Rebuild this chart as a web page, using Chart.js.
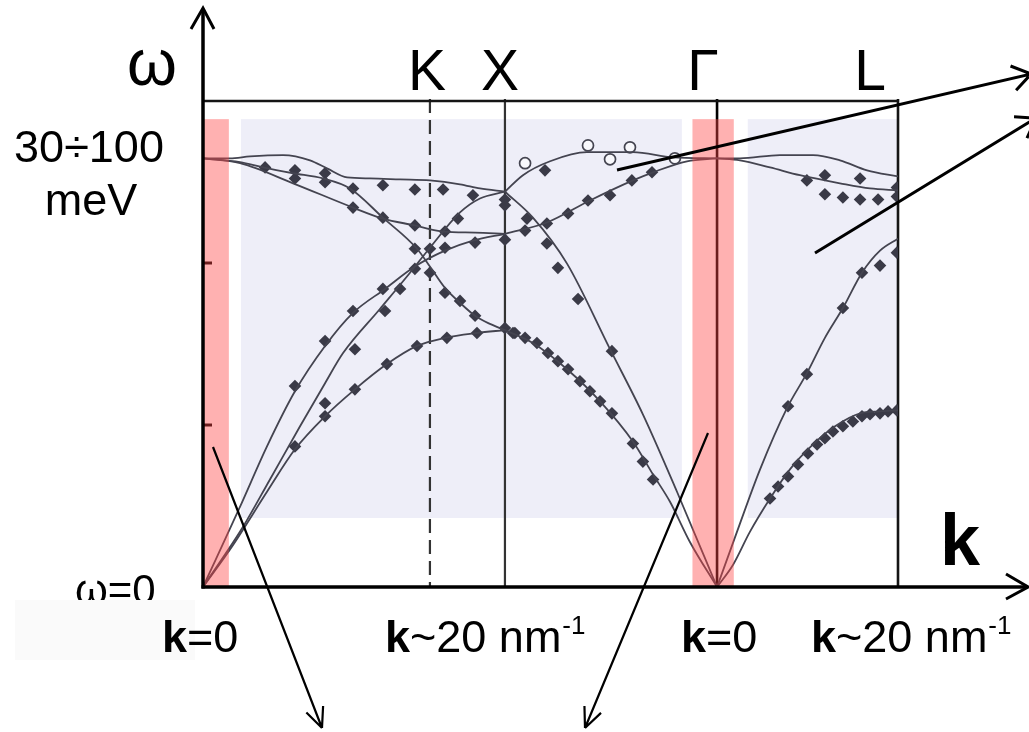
<!DOCTYPE html>
<html>
<head>
<meta charset="utf-8">
<script src="https://cdn.jsdelivr.net/npm/chart.js@4/dist/chart.umd.min.js"></script>
<style>
  html, body { margin: 0; padding: 0; background: #ffffff; }
  #wrap { width: 1029px; height: 732px; position: relative; }
</style>
</head>
<body>
<div id="wrap"><canvas id="c"></canvas></div>
<script>
// Phonon dispersion along Γ–K–X–Γ–L.
// k: distance along the path (units of 2π/a), ω: frequency (axis ticks at 5 and 10).
const symLabels = ['Γ', 'K', 'X', 'Γ', 'L'];
const symK = [0, 1.071, 1.425, 2.426, 3.28];
const omegaTicks = [5, 10];
const omegaMax = 15;

// Calculated branches, Γ → K → X
const gkxUpper  = [[0,13.23],[0.127,13.23],[0.222,13.29],[0.378,13.33],[0.505,13.17],[0.585,12.92],[0.680,12.64],[0.788,12.61],[0.930,12.58],[1.071,12.55],[1.213,12.43],[1.307,12.30],[1.425,12.2]];
const gkxFalling = [[0,13.23],[0.175,13.11],[0.283,12.95],[0.425,12.77],[0.566,12.61],[0.694,12.30],[0.849,11.40],[1.010,10.44],[1.071,9.89],[1.142,9.23],[1.213,8.77],[1.284,8.37],[1.354,8.12],[1.425,7.93]];
const gkxLower  = [[0,13.23],[0.175,13.08],[0.425,12.46],[0.708,11.71],[0.849,11.37],[1.000,11.16],[1.133,10.97],[1.284,10.94],[1.425,10.9]];
const gkxAcA    = [[0,0],[0.175,2.48],[0.302,4.34],[0.434,6.04],[0.576,7.44],[0.708,8.46],[0.859,9.20],[1.000,9.89],[1.142,10.38],[1.274,10.69],[1.425,10.9]];
const gkxAcB    = [[0,0],[0.189,1.86],[0.316,3.32],[0.458,4.96],[0.576,6.29],[0.661,7.22],[0.835,8.58],[0.977,9.70],[1.071,10.47],[1.213,11.56],[1.307,11.99],[1.425,12.2]];
const gkxAcC    = [[0,0],[0.142,1.30],[0.302,2.94],[0.434,4.25],[0.576,5.27],[0.717,6.10],[0.868,6.88],[1.010,7.44],[1.142,7.69],[1.293,7.84],[1.425,7.93]];

// Calculated branches, X → Γ
const xgTO = [[1.425,12.2],[1.510,12.71],[1.638,13.14],[1.812,13.42],[2.029,13.42],[2.218,13.26],[2.426,13.23]];
const xgLO = [[1.425,10.9],[1.623,11.25],[1.826,11.93],[2.029,12.55],[2.124,12.80],[2.284,13.14],[2.426,13.23]];
const xgLA = [[1.425,12.2],[1.557,11.40],[1.718,9.98],[1.921,7.34],[2.076,5.33],[2.237,2.94],[2.426,0]];
const xgTA = [[1.425,7.93],[1.557,7.53],[1.718,6.72],[1.874,5.73],[2.029,4.49],[2.124,3.47],[2.204,2.63],[2.298,1.39],[2.426,0]];

// Calculated branches, Γ → L
const glTO1 = [[2.426,13.23],[2.534,13.23],[2.723,13.33],[2.879,13.33],[3.006,13.17],[3.134,12.86],[3.28,12.67]];
const glTO2 = [[2.426,13.23],[2.534,13.17],[2.676,12.95],[2.817,12.71],[3.006,12.46],[3.148,12.30],[3.28,12.24]];
const glLA  = [[2.426,0],[2.520,1.70],[2.629,3.63],[2.756,5.52],[2.850,6.60],[2.935,7.69],[3.020,8.61],[3.110,9.70],[3.195,10.38],[3.28,10.75]];
const glTA  = [[2.426,0],[2.501,0.68],[2.581,1.70],[2.676,2.73],[2.770,3.63],[2.879,4.40],[2.983,4.96],[3.101,5.36],[3.195,5.42],[3.28,5.45]];

// Measured points (neutron scattering)
const measGKX = [[0.293,12.95],[0.434,12.86],[0.434,12.61],[0.576,12.77],[0.576,12.49],[0.708,12.30],[0.849,12.40],[1.000,12.27],[1.133,12.27],[1.274,12.09],[1.425,11.96],[1.425,11.78],
  [0.708,11.71],[0.849,11.40],[1.000,11.16],[1.142,10.97],[1.203,11.37],[1.284,10.63],[1.425,10.72],
  [1.000,10.44],[1.071,10.44],[1.142,10.47],
  [1.000,9.82],[1.071,9.70],[1.142,9.08],[1.213,8.83],[1.284,8.37],[1.425,7.99],[1.472,7.84],
  [0.849,9.20],[0.930,9.20],[0.708,8.52],[0.859,8.52],[0.576,7.59],[0.717,7.34],
  [1.010,7.44],[1.151,7.69],[1.293,7.84],[0.868,6.88],
  [0.434,6.20],[0.576,5.67],[0.576,5.27],[0.717,6.10],[0.434,4.34]];
const measXG = [[1.614,12.86],[1.529,11.37],[1.520,11.00],[1.623,11.22],[1.723,11.53],[1.817,11.93],[1.921,12.09],[2.024,12.55],[2.119,12.80],
  [1.623,10.60],[1.675,9.85],[1.770,8.89],[1.930,7.28],
  [1.463,7.84],[1.520,7.69],[1.576,7.53],[1.628,7.22],[1.675,6.97],[1.723,6.72],[1.779,6.35],[1.826,6.04],[1.874,5.73],[1.930,5.36],[2.029,4.43],[2.076,3.87],[2.124,3.32]];
const measGL = [[2.850,12.55],[2.935,12.71],[3.101,12.61],[2.935,12.12],[3.020,12.02],[3.101,11.96],[3.186,11.96],[3.275,12.33],[3.275,12.05],
  [2.761,5.58],[2.850,6.57],[3.020,8.61],[3.110,9.70],[3.195,9.92],[3.275,10.32],
  [2.676,2.73],[2.714,3.10],[2.761,3.41],[2.808,3.78],[2.855,4.12],[2.898,4.40],[2.935,4.59],[2.973,4.80],[3.020,4.96],[3.067,5.11],[3.110,5.27],[3.148,5.33],[3.195,5.36],[3.233,5.42],[3.275,5.45]];
const measOpen = [[1.520,13.08],[1.817,13.63],[1.921,13.20],[2.015,13.57],[2.227,13.23]];

// Highlighted k ranges
const pinkBands = [[0, 0.122], [2.31, 2.505]];
const paleBands = [[0.179, 2.26], [2.571, 3.275]];
const bandTop = 14.44, paleBottom = 2.13;

const toXY = arr => arr.map(([k, w]) => ({ x: k, y: w }));
const FONT = '"Liberation Sans", Arial, sans-serif';

const branches = [gkxUpper, gkxFalling, gkxLower, gkxAcA, gkxAcB, gkxAcC,
                  xgTO, xgLO, xgLA, xgTA, glTO1, glTO2, glLA, glTA];

const datasets = branches.map(b => ({
  data: toXY(b), showLine: true, borderColor: '#444450', borderWidth: 1.8,
  pointRadius: 0, cubicInterpolationMode: 'monotone', fill: false
}));
datasets.push({
  data: toXY([...measGKX, ...measXG, ...measGL]), showLine: false,
  pointStyle: 'rectRot', pointRadius: 6.3, backgroundColor: '#3a3a47', borderColor: '#3a3a47', borderWidth: 0
});
datasets.push({
  data: toXY(measOpen), showLine: false, pointStyle: 'circle', pointRadius: 5.5,
  backgroundColor: 'rgba(255,255,255,0.6)', borderColor: '#444450', borderWidth: 1.7
});

function arrowLine(ctx, x0, y0, x1, y1, head, spread) {
  const ang = Math.atan2(y1 - y0, x1 - x0);
  ctx.beginPath();
  ctx.moveTo(x0, y0); ctx.lineTo(x1, y1);
  for (const s of [-1, 1]) {
    ctx.moveTo(x1, y1);
    ctx.lineTo(x1 - head * Math.cos(ang + s * spread), y1 - head * Math.sin(ang + s * spread));
  }
  ctx.stroke();
}

function kLabel(ctx, x, y, rest, sup) {
  ctx.textAlign = 'left';
  ctx.font = 'bold 45px ' + FONT;
  ctx.fillText('k', x, y);
  let cx = x + ctx.measureText('k').width;
  ctx.font = '45px ' + FONT;
  ctx.fillText(rest, cx, y);
  cx += ctx.measureText(rest).width;
  if (sup) {
    ctx.font = '26px ' + FONT;
    ctx.fillText(sup, cx + 1, y - 18);
  }
}

const decor = {
  id: 'decor',
  beforeDatasetsDraw(chart) {
    const { ctx, chartArea: a, scales: { x, y } } = chart;
    ctx.save();
    // pale panels
    ctx.fillStyle = '#eeeef8';
    for (const [k0, k1] of paleBands) {
      const p0 = x.getPixelForValue(k0), p1 = x.getPixelForValue(k1);
      const t = y.getPixelForValue(bandTop), b = y.getPixelForValue(paleBottom);
      ctx.fillRect(p0, t, p1 - p0, b - t);
    }
    // symmetry-point lines
    symK.forEach((k, i) => {
      if (i === 0) return;
      const px = x.getPixelForValue(k);
      ctx.beginPath();
      ctx.strokeStyle = i === 4 ? '#151515' : (i === 3 ? '#000' : '#333');
      ctx.lineWidth = i === 4 ? 2.6 : (i === 3 ? 2.6 : 2.2);
      ctx.setLineDash(symLabels[i] === 'K' ? [14, 7] : []);
      ctx.moveTo(px, a.top - 2); ctx.lineTo(px, a.bottom);
      ctx.stroke();
    });
    ctx.setLineDash([]);
    // top frame
    ctx.beginPath();
    ctx.strokeStyle = '#151515'; ctx.lineWidth = 2.6;
    ctx.moveTo(a.left, a.top); ctx.lineTo(a.right + 1, a.top);
    ctx.stroke();
    // ω ticks
    ctx.lineWidth = 3; ctx.strokeStyle = '#000';
    for (const t of omegaTicks) {
      const py = y.getPixelForValue(t);
      ctx.beginPath(); ctx.moveTo(a.left, py); ctx.lineTo(a.left + 9, py); ctx.stroke();
    }
    ctx.restore();
  },
  afterDatasetsDraw(chart) {
    const { ctx, chartArea: a, scales: { x, y } } = chart;
    ctx.save();
    // translucent red strips around Γ
    ctx.fillStyle = 'rgba(255,70,70,0.42)';
    for (const [k0, k1] of pinkBands) {
      const p0 = x.getPixelForValue(k0), p1 = x.getPixelForValue(k1);
      const t = y.getPixelForValue(bandTop), b = a.bottom + 1;
      ctx.fillRect(p0, t, p1 - p0, b - t);
    }
    // axes with arrowheads
    ctx.strokeStyle = '#000'; ctx.lineCap = 'butt';
    ctx.lineWidth = 3.5;
    ctx.beginPath(); ctx.moveTo(a.left, a.bottom + 1.5); ctx.lineTo(a.left, 10); ctx.stroke();
    ctx.beginPath(); ctx.moveTo(a.left - 1.5, a.bottom); ctx.lineTo(1026, a.bottom); ctx.stroke();
    ctx.lineWidth = 3;
    ctx.beginPath();
    ctx.moveTo(a.left - 12, 29); ctx.lineTo(a.left, 8); ctx.lineTo(a.left + 11, 29);
    ctx.moveTo(1006, a.bottom - 13); ctx.lineTo(1028, a.bottom); ctx.lineTo(1006, a.bottom + 12);
    ctx.stroke();

    // text
    ctx.fillStyle = '#000';
    ctx.textBaseline = 'alphabetic';
    ctx.textAlign = 'center';
    ctx.font = '64px ' + FONT;
    ctx.fillText('ω', 152, 85);
    const labelShift = [0, -3, -5, -14, -28];
    ctx.font = '57px ' + FONT;
    symLabels.forEach((s, i) => {
      if (i === 0) return;
      ctx.fillText(s, x.getPixelForValue(symK[i]) + labelShift[i], 90);
    });
    ctx.font = '45px ' + FONT;
    ctx.fillText('30÷100', 89, 162);
    ctx.fillText('meV', 91, 215);
    ctx.textAlign = 'left';
    ctx.font = 'bold 72px ' + FONT;
    ctx.fillText('k', 940, 565);
    ctx.font = '42px ' + FONT;
    ctx.fillText('ω=0', 75, 604);
    ctx.fillStyle = '#fafafa';
    ctx.fillRect(15, 600, 180, 60);
    ctx.fillStyle = '#000';
    kLabel(ctx, 162, 652, '=0', '');
    kLabel(ctx, 385, 652, '~20 nm', '-1');
    kLabel(ctx, 681, 652, '=0', '');
    kLabel(ctx, 811, 652, '~20 nm', '-1');

    // pointer arrows
    ctx.strokeStyle = '#000';
    ctx.lineWidth = 2.2;
    arrowLine(ctx, 213, 447, 322, 728, 22, 0.42);
    arrowLine(ctx, 708, 433, 585, 728, 22, 0.42);
    ctx.lineWidth = 3;
    arrowLine(ctx, 617, 170, 1031, 74, 22, 0.6);
    arrowLine(ctx, 815, 253, 1036, 118, 22, 0.6);
    ctx.restore();
  }
};

new Chart(document.getElementById('c'), {
  type: 'scatter',
  data: { datasets },
  options: {
    responsive: true,
    maintainAspectRatio: false,
    animation: false,
    layout: { padding: { left: 203, right: 131, top: 101, bottom: 145 } },
    scales: {
      x: { type: 'linear', min: 0, max: symK[symK.length - 1], display: false },
      y: { type: 'linear', min: 0, max: omegaMax, display: false }
    },
    plugins: { legend: { display: false }, tooltip: { enabled: false } },
    elements: { line: { tension: 0.4 } }
  },
  plugins: [decor]
});
</script>
</body>
</html>
